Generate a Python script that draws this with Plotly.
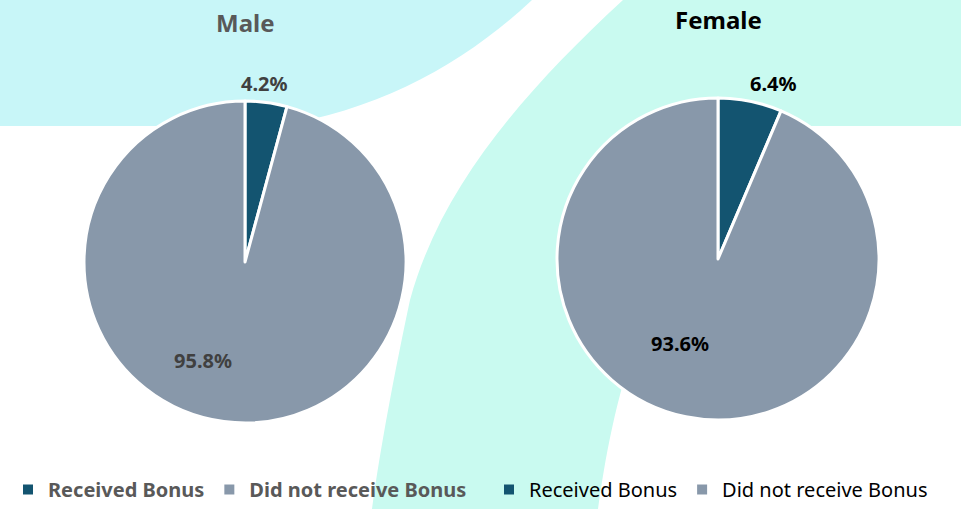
import plotly.graph_objects as go

# ---- data ----
categories = ["Received Bonus", "Did not receive Bonus"]
male_values = [4.2, 95.8]
female_values = [6.4, 93.6]
groups = ["Male", "Female"]

W, H = 961, 509
colors = ["#135470", "#8898AA"]
FONT = "Noto Sans"


def px_path(cmds):
    out = []
    for c, pts in cmds:
        s = c
        if pts:
            s += " ".join(f"{x / W:.5f},{1 - y / H:.5f}" for x, y in pts)
        out.append(s)
    return " ".join(out)


def px(x, y):
    return x / W, 1 - y / H


blob_a = px_path([
    ("M", [(0, 0)]), ("L", [(532, 0)]),
    ("C", [(470, 58), (385, 110), (275, 126)]),
    ("L", [(0, 126)]), ("Z", []),
])
band_b = px_path([
    ("M", [(623, 0)]),
    ("C", [(520, 95), (440, 190), (410, 300)]),
    ("C", [(395, 370), (380, 450), (372, 509)]),
    ("L", [(598, 509)]),
    ("C", [(605, 460), (615, 400), (640, 330)]),
    ("C", [(690, 220), (750, 160), (810, 126)]),
    ("L", [(961, 126)]), ("L", [(961, 0)]), ("Z", []),
])

fig = go.Figure()

pie_specs = [
    dict(values=male_values, name=groups[0], cx=245, cy=262, r=161,
         legend="legend", tcol="#404040",
         lab_pos=[(264, 84), (203, 360)]),
    dict(values=female_values, name=groups[1], cx=718, cy=259, r=161,
         legend="legend2", tcol="#000000",
         lab_pos=[(773, 84), (680, 343)]),
]

annotations = []
for spec in pie_specs:
    cx, cy, r = spec["cx"], spec["cy"], spec["r"]
    fig.add_trace(go.Pie(
        labels=categories,
        values=spec["values"],
        name=spec["name"],
        sort=False,
        direction="clockwise",
        rotation=0,
        marker=dict(colors=colors, line=dict(color="white", width=3)),
        textinfo="none",
        domain=dict(x=[(cx - r) / W, (cx + r) / W],
                    y=[1 - (cy + r) / H, 1 - (cy - r) / H]),
        showlegend=False,
        hoverinfo="label+percent",
    ))
    total = sum(spec["values"])
    for v, (lx, ly) in zip(spec["values"], spec["lab_pos"]):
        x, y = px(lx, ly)
        annotations.append(dict(
            text=f"<b>{100 * v / total:.1f}%</b>", x=x, y=y, xref="paper", yref="paper",
            showarrow=False, xanchor="center", yanchor="middle",
            font=dict(family=FONT, size=20, color=spec["tcol"])))
    for cat, col in zip(categories, colors):
        fig.add_trace(go.Scatter(
            x=[None], y=[None], mode="markers", name=cat,
            marker=dict(symbol="square", size=10, color=col),
            legend=spec["legend"], showlegend=True, hoverinfo="skip"))

tx, ty = px(245, 22)
annotations.append(dict(text="<b>Male</b>", x=tx, y=ty, xref="paper", yref="paper",
                        showarrow=False, xanchor="center", yanchor="middle",
                        font=dict(family=FONT, size=24, color="#595959")))
tx, ty = px(718, 20)
annotations.append(dict(text="<b>Female</b>", x=tx, y=ty, xref="paper", yref="paper",
                        showarrow=False, xanchor="center", yanchor="middle",
                        font=dict(family=FONT, size=24, color="#000000")))

fig.update_layout(
    width=W, height=H,
    margin=dict(l=0, r=0, t=0, b=0, autoexpand=False),
    paper_bgcolor="white",
    plot_bgcolor="rgba(0,0,0,0)",
    font=dict(family=FONT),
    xaxis=dict(visible=False),
    yaxis=dict(visible=False),
    shapes=[
        dict(type="path", path=blob_a, xref="paper", yref="paper",
             fillcolor="#C8F6F8", line=dict(width=0), layer="below"),
        dict(type="path", path=band_b, xref="paper", yref="paper",
             fillcolor="#C9FAF0", line=dict(width=0), layer="below"),
    ],
    annotations=annotations,
    legend=dict(
        orientation="h", x=8 / W, y=0, xanchor="left", yanchor="bottom",
        bgcolor="rgba(0,0,0,0)", font=dict(family=FONT, size=20, color="#595959", weight="bold"),
        itemwidth=30, traceorder="normal",
    ),
    legend2=dict(
        orientation="h", x=489 / W, y=0, xanchor="left", yanchor="bottom",
        bgcolor="rgba(0,0,0,0)", font=dict(family=FONT, size=20, color="#000000"),
        itemwidth=30, traceorder="normal",
    ),
)

fig.write_html(
    "out.html",
    config={"displayModeBar": False},
    post_script="document.body.style.margin='0';document.body.style.overflow='hidden';",
)
